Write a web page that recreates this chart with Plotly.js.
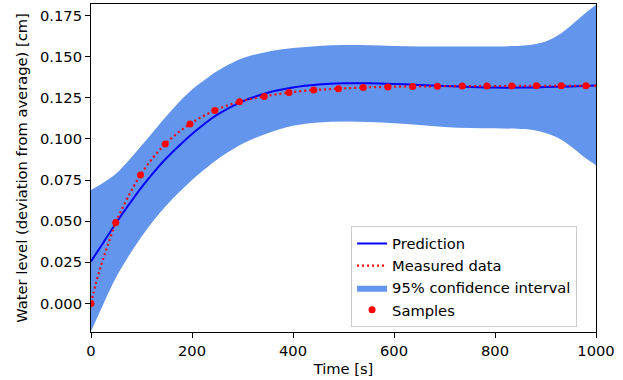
<!DOCTYPE html>
<html>
<head>
<meta charset="utf-8">
<script src="https://cdn.plot.ly/plotly-3.0.1.min.js"></script>
<style>html,body{margin:0;padding:0;background:#fff;}#chart{width:623px;height:380px;}</style>
</head>
<body>
<div id="chart"></div>
<script>
// Prediction (model mean)
const predTime  = [0, 25, 50, 75, 100, 125, 150, 175, 200, 225, 250, 300, 350, 400, 450, 500, 550, 600, 650, 700, 750, 800, 850, 900, 950, 1000];
const predLevel = [0.0255, 0.0372, 0.0490, 0.0600, 0.0705, 0.0800, 0.0885, 0.0960, 0.1030, 0.1092, 0.1147, 0.1228, 0.1280, 0.1312, 0.1330, 0.1338, 0.1338, 0.1334, 0.1328, 0.1322, 0.1316, 0.1312, 0.1312, 0.1315, 0.1319, 0.1325];

// 95% confidence interval bounds
const bandTime  = [0, 25, 50, 75, 100, 125, 150, 175, 200, 225, 250, 300, 350, 400, 450, 500, 550, 600, 650, 700, 750, 800, 850, 875, 900, 925, 950, 975, 1000];
const bandUpper = [0.0690, 0.0735, 0.0790, 0.0870, 0.0960, 0.1050, 0.1140, 0.1225, 0.1300, 0.1358, 0.1412, 0.1490, 0.1530, 0.1552, 0.1565, 0.1570, 0.1569, 0.1565, 0.1562, 0.1561, 0.1561, 0.1562, 0.1566, 0.1574, 0.1592, 0.1630, 0.1688, 0.1754, 0.1815];
const bandLower = [-0.0170, 0.0000, 0.0160, 0.0290, 0.0405, 0.0508, 0.0598, 0.0677, 0.0750, 0.0815, 0.0875, 0.0970, 0.1035, 0.1080, 0.1100, 0.1106, 0.1103, 0.1095, 0.1085, 0.1073, 0.1066, 0.1064, 0.1060, 0.1054, 0.1036, 0.1005, 0.0955, 0.0893, 0.0840];

// Samples
const sampleTime  = [0, 49, 98, 147, 196, 245, 294, 343, 392, 441, 490, 539, 588, 637, 686, 735, 784, 833, 882, 931, 980];
const sampleLevel = [0.0000, 0.0492, 0.0780, 0.0969, 0.1090, 0.1173, 0.1226, 0.1258, 0.1282, 0.1297, 0.1305, 0.1313, 0.1316, 0.1319, 0.1320, 0.1321, 0.1321, 0.1322, 0.1323, 0.1323, 0.1323];

// Measured data (dense dotted curve)
const measTime  = [0, 10, 20, 30, 40, 49, 98, 147, 196, 245, 294, 343, 392, 441, 490, 539, 588, 637, 686, 735, 784, 833, 882, 931, 980, 1000];
const measLevel = [0.0000, 0.0125, 0.0232, 0.0325, 0.0415, 0.0492, 0.0780, 0.0969, 0.1090, 0.1173, 0.1226, 0.1258, 0.1282, 0.1297, 0.1305, 0.1313, 0.1316, 0.1319, 0.1320, 0.1321, 0.1321, 0.1322, 0.1323, 0.1323, 0.1323, 0.1323];

const xTicks = [0, 200, 400, 600, 800, 1000];
const yTicks = [0.000, 0.025, 0.050, 0.075, 0.100, 0.125, 0.150, 0.175];

const FONT = 'DejaVu Sans, sans-serif';
const FS = 14.7;

const traces = [
  {x: bandTime, y: bandLower, type: 'scatter', mode: 'lines', line: {width: 0, shape: 'spline', color: '#6495ED'},
   showlegend: false, hoverinfo: 'skip'},
  {x: bandTime, y: bandUpper, type: 'scatter', mode: 'lines', line: {width: 0, shape: 'spline', color: '#6495ED'},
   fill: 'tonexty', fillcolor: '#6495ED', name: '95% confidence interval', legendrank: 3},
  {x: predTime, y: predLevel, type: 'scatter', mode: 'lines', line: {color: '#0000ff', width: 2, shape: 'spline'},
   name: 'Prediction', legendrank: 1},
  {x: measTime, y: measLevel, type: 'scatter', mode: 'lines', line: {color: '#ff0000', width: 2.2, dash: '2px,3px', shape: 'spline'},
   name: 'Measured data', legendrank: 2},
  {x: sampleTime, y: sampleLevel, type: 'scatter', mode: 'markers', marker: {color: '#ff0000', size: 7},
   name: 'Samples', legendrank: 4}
];

const axisCommon = {
  showline: true, mirror: true, linecolor: '#000', linewidth: 1,
  ticks: 'outside', ticklen: 5, tickwidth: 1, tickcolor: '#000',
  showgrid: false, zeroline: false,
  tickfont: {family: FONT, size: FS, color: '#000'}
};

const layout = {
  width: 623, height: 380,
  margin: {l: 91, r: 27, t: 4, b: 48},
  paper_bgcolor: '#fff', plot_bgcolor: '#fff',
  font: {family: FONT, size: FS, color: '#000'},
  xaxis: Object.assign({}, axisCommon, {
    range: [0, 1000], tickvals: xTicks, ticktext: xTicks.map(String),
    title: {text: 'Time [s]', font: {family: FONT, size: FS, color: '#000'}, standoff: 6}
  }),
  yaxis: Object.assign({}, axisCommon, {
    range: [-0.0174, 0.182], tickvals: yTicks, ticktext: yTicks.map(v => v.toFixed(3)),
    title: {text: 'Water level (deviation from average) [cm]', font: {family: FONT, size: FS, color: '#000'}, standoff: 8}
  }),
  legend: {
    x: 0.515, y: 0.014, xanchor: 'left', yanchor: 'bottom',
    bgcolor: 'rgba(255,255,255,0.8)', bordercolor: '#cccccc', borderwidth: 1,
    font: {family: FONT, size: FS, color: '#000'}, itemwidth: 30, traceorder: 'normal'
  },
  showlegend: true
};

Plotly.newPlot('chart', traces, layout, {staticPlot: true, displayModeBar: false});
</script>
</body>
</html>
